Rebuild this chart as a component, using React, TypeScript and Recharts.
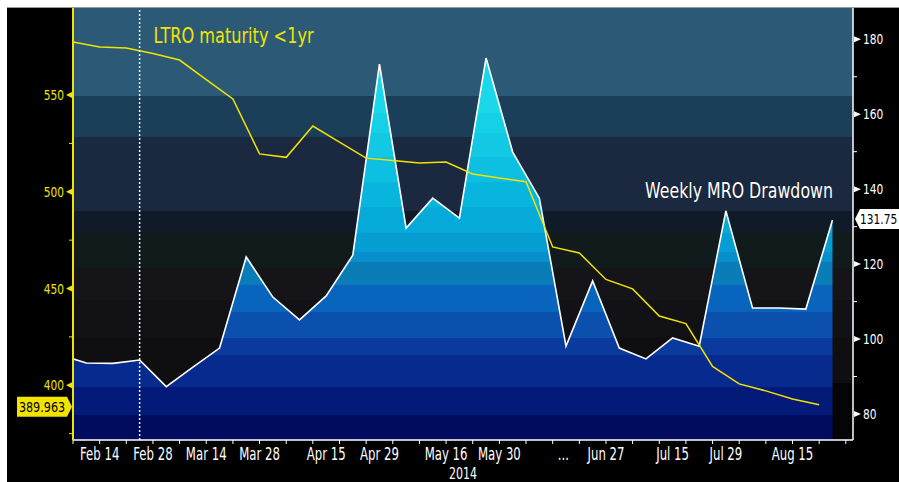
import React from "react";
import {
  ComposedChart,
  Area,
  Line,
  XAxis,
  YAxis,
  CartesianGrid,
  ReferenceLine,
  Customized,
} from "recharts";

// ─── Data (weekly, x = week index) ────────────────────────────────────────────

// LTRO outstanding, EUR bn (left axis), one value per week starting at week 0
const ltroOutstanding = [
  577.4, 574.8, 574.3, 571.5, 568.1, 558.0, 548.0, 519.6, 517.8, 534.0, 525.7,
  517.4, 516.2, 514.9, 515.4, 509.2, 507.1, 505.2, 471.5, 468.4, 454.7, 449.8,
  435.8, 431.9, 409.7, 400.7, 397.1, 392.9, 389.963,
];

// Weekly MRO drawdown, EUR bn (right axis), half a week later, from week -0.5
const mroDrawdown = [
  95.8, 93.6, 93.5, 94.4, 87.3, 92.5, 97.6, 121.9, 111.2, 105.1, 111.5, 122.4,
  173.4, 129.6, 137.6, 132.3, 175.0, 149.9, 137.6, 98.1, 115.5, 97.6, 94.7,
  100.3, 98.1, 134.2, 108.3, 108.3, 108.0, 131.75,
];

const dateLabels = [
  { m: 1, label: "Feb 14" },
  { m: 3, label: "Feb 28" },
  { m: 5, label: "Mar 14" },
  { m: 7, label: "Mar 28" },
  { m: 9.5, label: "Apr 15" },
  { m: 11.5, label: "Apr 29" },
  { m: 14, label: "May 16" },
  { m: 16, label: "May 30" },
  { m: 18.4, label: "..." },
  { m: 20, label: "Jun 27" },
  { m: 22.5, label: "Jul 15" },
  { m: 24.5, label: "Jul 29" },
  { m: 27, label: "Aug 15" },
];

const leftTicks = [375, 400, 425, 450, 475, 500, 525, 550];
const rightTicks = [80, 90, 100, 110, 120, 130, 140, 150, 160, 170, 180];
const maturityWeek = 2.5;

// ─── Styling ──────────────────────────────────────────────────────────────────

const FONT = "'DejaVu Sans', sans-serif";
const YELLOW = "#f2e400";
const TOP = 8;
const BOTTOM = 440;

// stepped bands (pixel y where each colour starts)
const bgBands: [number, string][] = [
  [8, "#2c5a76"],
  [96, "#1b3f58"],
  [137, "#1a2940"],
  [211, "#111a29"],
  [233, "#111b1c"],
  [268, "#141419"],
  [300, "#121216"],
  [337, "#0f0f11"],
  [383, "#050507"],
];

const areaBands: [number, string][] = [
  [8, "#1ad8ea"],
  [113, "#16d0e6"],
  [133, "#12c8e2"],
  [157, "#0dbfe0"],
  [182, "#08b5dc"],
  [207, "#05aad8"],
  [233, "#069ed2"],
  [252, "#088ecc"],
  [262, "#0a7cb8"],
  [285, "#0864bc"],
  [312, "#0a50ac"],
  [338, "#0a3a9e"],
  [355, "#072a8e"],
  [387, "#041a78"],
  [415, "#020c5e"],
];

function SteppedGradient({ id, bands }: { id: string; bands: [number, string][] }) {
  const off = (y: number) => (y - TOP) / (BOTTOM - TOP);
  const stops: React.ReactNode[] = [];
  bands.forEach(([y, c], i) => {
    const end = i < bands.length - 1 ? bands[i + 1][0] : BOTTOM;
    stops.push(<stop key={i + "a"} offset={off(y)} stopColor={c} />);
    stops.push(<stop key={i + "b"} offset={off(end)} stopColor={c} />);
  });
  return (
    <linearGradient id={id} gradientUnits="userSpaceOnUse" x1="0" y1={TOP} x2="0" y2={BOTTOM}>
      {stops}
    </linearGradient>
  );
}

// condensed text: no narrow font is installed, so squeeze DejaVu horizontally
function NText({ x, y, sx = 0.72, anchor = "start", size = 14, fill = "#fff", children, ...rest }: any) {
  return (
    <text
      transform={`translate(${x} ${y}) scale(${sx} 1)`}
      textAnchor={anchor}
      fontFamily={FONT}
      fontSize={size}
      fill={fill}
      {...rest}
    >
      {children}
    </text>
  );
}

// ─── Axis ticks ───────────────────────────────────────────────────────────────

function LeftTick({ x, y, payload }: any) {
  const v = payload.value;
  if (v % 50 !== 0) return <line x1={x - 4} x2={x} y1={y} y2={y} stroke={YELLOW} />;
  return (
    <g>
      <polygon points={`${x - 7},${y} ${x - 1},${y - 3} ${x - 1},${y + 3}`} fill={YELLOW} />
      <NText x={x - 9} y={y + 5} anchor="end" sx={0.76} fill={YELLOW}>
        {v}
      </NText>
    </g>
  );
}

function RightTick({ x, y, payload }: any) {
  const v = payload.value;
  if (v % 20 !== 0) return <line x1={x} x2={x + 4} y1={y} y2={y} stroke="#fff" />;
  return (
    <g>
      <polygon points={`${x + 1},${y - 3} ${x + 1},${y + 3} ${x + 8},${y}`} fill="#fff" />
      <NText x={x + 10} y={y + 5} sx={0.76}>
        {v}
      </NText>
    </g>
  );
}

function BottomTick({ x, y, payload }: any) {
  const v = payload.value;
  const lab = dateLabels.find((d) => d.m === v);
  return (
    <g>
      {Number.isInteger(v) && <line x1={x} x2={x} y1={y} y2={y + 4} stroke="#fff" />}
      {lab && (
        <NText x={x} y={y + 20} anchor="middle" size={17} sx={0.69}>
          {lab.label}
        </NText>
      )}
    </g>
  );
}

// ─── Badges / annotations ────────────────────────────────────────────────────

function LeftBadge({ viewBox }: any) {
  const x = viewBox.x;
  const y = viewBox.y + 2;
  return (
    <g>
      <polygon
        points={`${x - 56},${y - 10} ${x - 6},${y - 10} ${x - 1},${y} ${x - 6},${y + 10} ${x - 56},${y + 10}`}
        fill={YELLOW}
      />
      <NText x={x - 31} y={y + 5} anchor="middle" sx={0.8} fill="#000">
        {ltroOutstanding[ltroOutstanding.length - 1].toFixed(3)}
      </NText>
    </g>
  );
}

function RightBadge({ viewBox }: any) {
  const x = viewBox.x + viewBox.width;
  const y = viewBox.y - 1;
  return (
    <g>
      <polygon
        points={`${x + 2},${y} ${x + 7},${y - 10} ${x + 60},${y - 10} ${x + 60},${y + 10} ${x + 7},${y + 10}`}
        fill="#fff"
      />
      <NText x={x + 7} y={y + 5} sx={0.76} fill="#000">
        {mroDrawdown[mroDrawdown.length - 1].toFixed(2)}
      </NText>
    </g>
  );
}

function MaturityLabel({ viewBox }: any) {
  return (
    <text
      x={viewBox.x + 14}
      y={viewBox.y + 35}
      fill={YELLOW}
      fontSize={22}
      fontFamily={FONT}
      textLength={160}
      lengthAdjust="spacingAndGlyphs"
    >
      {"LTRO maturity <1yr"}
    </text>
  );
}

function SeriesNames() {
  return (
    <g fontFamily={FONT} fontSize={22}>
      <text
        x={645}
        y={198}
        fill="#fff"
        stroke="#000"
        strokeWidth={0.5}
        paintOrder="stroke"
        textLength={188}
        lengthAdjust="spacingAndGlyphs"
      >
        Weekly MRO Drawdown
      </text>
      <text x={632} y={414} fill={YELLOW} textLength={143} lengthAdjust="spacingAndGlyphs">
        LTRO Outstanding
      </text>
      <NText x={463} y={479} anchor="middle" size={16} sx={0.69}>
        2014
      </NText>
    </g>
  );
}

// ─── Chart ────────────────────────────────────────────────────────────────────

export default function App() {
  const ltroData = ltroOutstanding.map((v, i) => ({ m: i, v }));
  const mroData = mroDrawdown.map((v, i) => ({ m: i - 0.5, v }));
  const xTicks = Array.from(
    new Set([...ltroOutstanding.map((_, i) => i), 29, ...dateLabels.map((d) => d.m)])
  ).sort((a, b) => a - b);

  return (
    <div style={{ position: "absolute", left: 0, top: 0, width: 899, height: 482, background: "#fff" }}>
      <div
        style={{
          position: "absolute",
          left: 7,
          top: 7,
          width: 892,
          height: 475,
          background: "#000",
          borderTop: "1px solid #9a9a9a",
          boxSizing: "border-box",
        }}
      />
      <div style={{ position: "absolute", left: 0, top: 0 }}>
        <ComposedChart width={899} height={482} margin={{ top: TOP, right: 0, bottom: 0, left: 0 }}>
          <defs>
            <SteppedGradient id="bgGrad" bands={bgBands} />
            <SteppedGradient id="areaGrad" bands={areaBands} />
          </defs>
          <CartesianGrid yAxisId="left" horizontal={false} vertical={false} fill="url(#bgGrad)" fillOpacity={1} />
          <XAxis
            type="number"
            dataKey="m"
            domain={[0, 29.27]}
            allowDataOverflow
            ticks={xTicks}
            interval={0}
            height={42}
            tickSize={0}
            tickMargin={0}
            tick={<BottomTick />}
            axisLine={{ stroke: "#fff", strokeWidth: 1.5 }}
          />
          <YAxis
            yAxisId="left"
            orientation="left"
            type="number"
            domain={[371.7, 595]}
            allowDataOverflow
            ticks={leftTicks}
            interval={0}
            width={73}
            tickSize={0}
            tickMargin={0}
            tick={<LeftTick />}
            axisLine={{ stroke: YELLOW, strokeWidth: 2 }}
          />
          <YAxis
            yAxisId="right"
            orientation="right"
            type="number"
            domain={[73.06, 188.35]}
            allowDataOverflow
            ticks={rightTicks}
            interval={0}
            width={46}
            tickSize={0}
            tickMargin={0}
            tick={<RightTick />}
            axisLine={{ stroke: "#fff", strokeWidth: 1.5 }}
          />
          <Area
            yAxisId="right"
            data={mroData}
            dataKey="v"
            type="linear"
            stroke="#ffffff"
            strokeWidth={1.6}
            fill="url(#areaGrad)"
            fillOpacity={1}
            isAnimationActive={false}
            dot={false}
            activeDot={false}
          />
          <Line
            yAxisId="left"
            data={ltroData}
            dataKey="v"
            type="linear"
            stroke={YELLOW}
            strokeWidth={1.5}
            dot={false}
            activeDot={false}
            isAnimationActive={false}
          />
          <ReferenceLine
            yAxisId="left"
            x={maturityWeek}
            stroke="#e8f4ff"
            strokeWidth={1.5}
            strokeDasharray="2 2"
            label={(p: any) => <MaturityLabel {...p} />}
          />
          <ReferenceLine
            yAxisId="left"
            y={ltroOutstanding[ltroOutstanding.length - 1]}
            stroke="none"
            ifOverflow="visible"
            label={(p: any) => <LeftBadge {...p} />}
          />
          <ReferenceLine
            yAxisId="right"
            y={mroDrawdown[mroDrawdown.length - 1]}
            stroke="none"
            ifOverflow="visible"
            label={(p: any) => <RightBadge {...p} />}
          />
          <Customized component={SeriesNames} />
        </ComposedChart>
      </div>
    </div>
  );
}
